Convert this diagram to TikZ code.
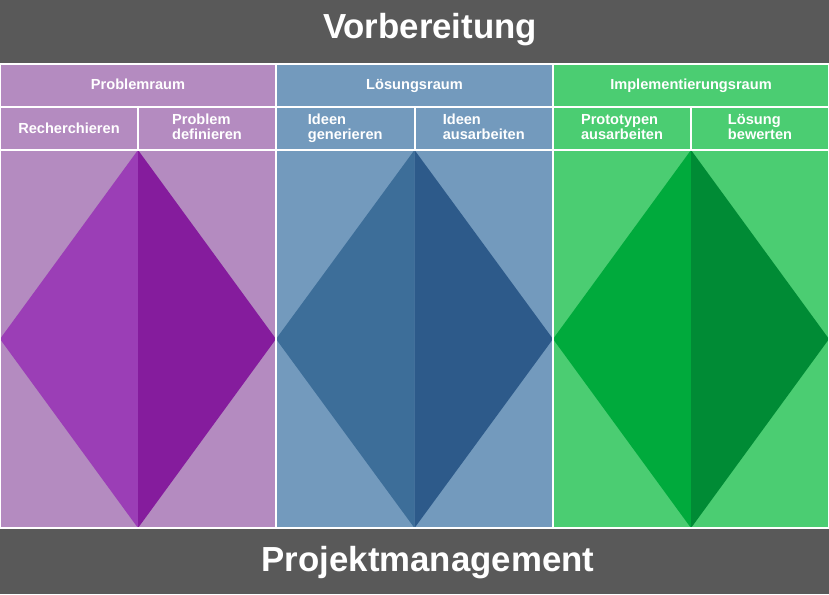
\documentclass[tikz,border=0pt]{standalone}
\usepackage{fontspec}
\setmainfont{Liberation Sans}
\definecolor{BarGray}{HTML}{595959}
\definecolor{ProbBg}{HTML}{B48BC0}
\definecolor{ProbLeft}{HTML}{9B3EB6}
\definecolor{ProbRight}{HTML}{851C9D}
\definecolor{LoesBg}{HTML}{739ABD}
\definecolor{LoesLeft}{HTML}{3D6E99}
\definecolor{LoesRight}{HTML}{2D5A8A}
\definecolor{ImplBg}{HTML}{4BCD72}
\definecolor{ImplLeft}{HTML}{00AA3C}
\definecolor{ImplRight}{HTML}{008B35}

\begin{document}
\begin{tikzpicture}[x=1pt,y=-1pt,every node/.style={text=white,inner sep=0pt,outer sep=0pt},bar/.style={fill=BarGray,minimum width=829pt},bartitle/.style={anchor=base,font=\fontsize{34.8}{40}\selectfont\bfseries},cell/.style={draw=white,line width=2pt,minimum height=43pt,align=left,font=\fontsize{14.6}{15}\selectfont\bfseries},head/.style={anchor=base,font=\fontsize{14.6}{15}\selectfont\bfseries},area/.style={minimum width=#1,minimum height=378pt},gridline/.style={draw=white,line width=2pt}]
\useasboundingbox (0,0) rectangle (829,594);

\node[bar,minimum height=63pt] (prep) at (414.5,31.5) {};
\node[bartitle] (preptitle) at (430,38.5) {Vorbereitung};
\node[bar,minimum height=66pt] (pm) at (414.5,561) {};
\node[bartitle] (pmtitle) at (428,571) {Projektmanagement};

% Problemraum
\node[area=276pt,fill=ProbBg] (probarea) at (138,339) {};
\fill[ProbLeft] (probarea.north)--(probarea.west)--(probarea.south)--cycle;
\fill[ProbRight] (probarea.north)--(probarea.east)--(probarea.south)--cycle;
\node[cell,fill=ProbBg,minimum width=276pt] (prob) at (138,85.5) {};
\node[head] (probtitle) at (138,89.8) {Problemraum};
\node[cell,fill=ProbBg,minimum width=138pt] (recherche) at (69,128.5) {Recherchieren};
\node[cell,fill=ProbBg,minimum width=138pt] (definieren) at (207,128.5) {Problem\\definieren\vphantom{g}};
\draw[gridline] (probarea.north west) rectangle (probarea.south east);

% Loesungsraum
\node[area=277pt,fill=LoesBg] (loesarea) at (414.5,339) {};
\fill[LoesLeft] (loesarea.north)--(loesarea.west)--(loesarea.south)--cycle;
\fill[LoesRight] (loesarea.north)--(loesarea.east)--(loesarea.south)--cycle;
\node[cell,fill=LoesBg,minimum width=277pt] (loes) at (414.5,85.5) {};
\node[head] (loestitle) at (414.5,89.8) {Lösungsraum};
\node[cell,fill=LoesBg,minimum width=138.5pt] (generieren) at (345.25,128.5) {Ideen\\generieren};
\node[cell,fill=LoesBg,minimum width=138.5pt] (ideenaus) at (483.75,128.5) {Ideen\\ausarbeiten\vphantom{g}};
\draw[gridline] (loesarea.north west) rectangle (loesarea.south east);

% Implementierungsraum
\node[area=276pt,fill=ImplBg] (implarea) at (691,339) {};
\fill[ImplLeft] (implarea.north)--(implarea.west)--(implarea.south)--cycle;
\fill[ImplRight] (implarea.north)--(implarea.east)--(implarea.south)--cycle;
\node[cell,fill=ImplBg,minimum width=276pt] (impl) at (691,85.5) {};
\node[head] (impltitle) at (691,89.8) {Implementierungsraum};
\node[cell,fill=ImplBg,minimum width=138pt] (prototyp) at (622,128.5) {Prototypen\\ausarbeiten\vphantom{g}};
\node[cell,fill=ImplBg,minimum width=138pt] (bewerten) at (760,128.5) {Lösung\\bewerten\vphantom{g}};
\draw[gridline] (implarea.north west) rectangle (implarea.south east);

\end{tikzpicture}
\end{document}
